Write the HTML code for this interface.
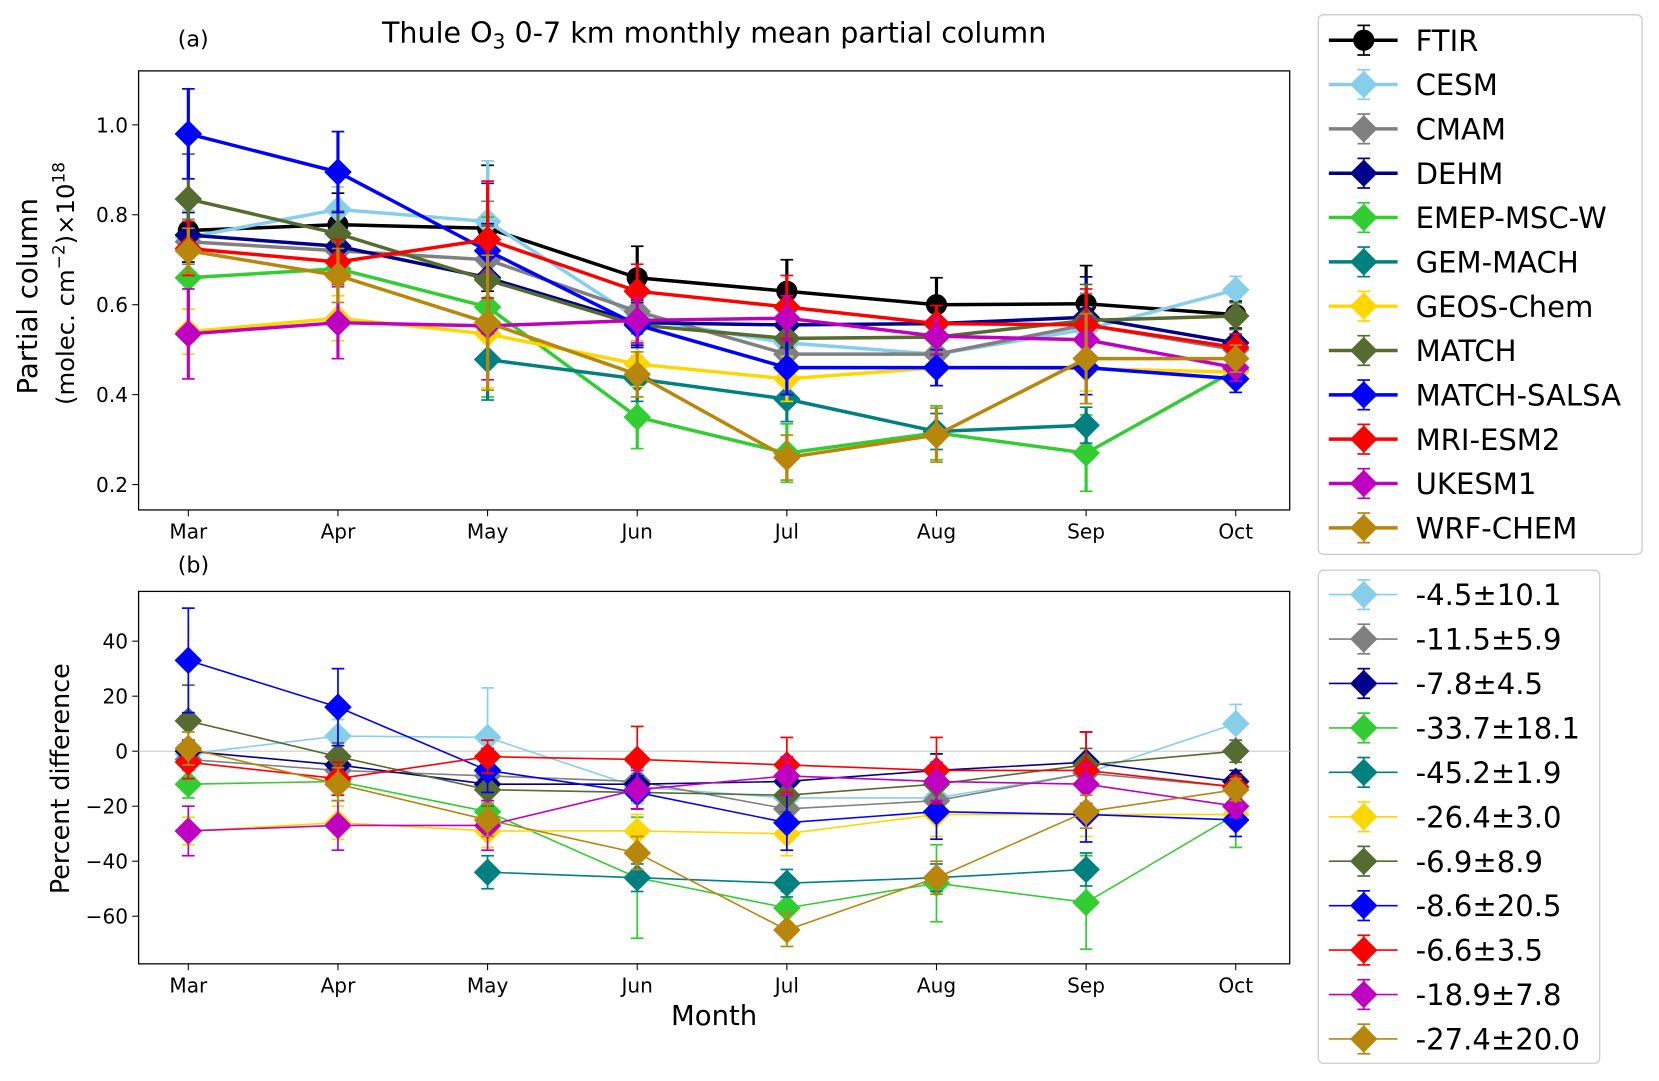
<!DOCTYPE html>
<html><head><meta charset="utf-8">
<style>
body{margin:0;background:#fff;}
svg{display:block;font-family:"DejaVu Sans","Liberation Sans",sans-serif;}
</style></head>
<body>
<svg id="chart" width="1659" height="1081" viewBox="0 0 1659 1081">
<g id="root" transform="scale(1.058)">
<text x="675" y="40" font-size="27" text-anchor="middle">Thule O<tspan font-size="19" dy="6">3</tspan><tspan dy="-6"> 0-7 km monthly mean partial column</tspan></text>
<text x="168" y="44" font-size="21">(a)</text>
<text x="168" y="541" font-size="21">(b)</text>
<g id="pa"></g><g id="pb"></g><g id="leg"></g>
</g>
</svg>
<script>
const months = ["Mar","Apr","May","Jun","Jul","Aug","Sep","Oct"];
const names = ["FTIR","CESM","CMAM","DEHM","EMEP-MSC-W","GEM-MACH","GEOS-Chem","MATCH","MATCH-SALSA","MRI-ESM2","UKESM1","WRF-CHEM"];
const colors = ["#000000","#87ceeb","#808080","#00008b","#32cd32","#008080","#ffd700","#556b2f","#0000ff","#ff0000","#c000c0","#b8860b"];
const N = null;
const colA = [
 [0.765,0.778,0.770,0.660,0.630,0.600,0.602,0.578],
 [0.750,0.812,0.785,0.570,0.515,0.490,0.545,0.633],
 [0.740,0.720,0.700,0.585,0.490,0.490,0.555,0.500],
 [0.755,0.730,0.660,0.560,0.555,0.558,0.572,0.515],
 [0.660,0.680,0.595,0.350,0.270,0.315,0.270,0.455],
 [N,N,0.478,0.435,0.390,0.318,0.332,N],
 [0.540,0.570,0.535,0.468,0.435,0.460,0.458,0.450],
 [0.835,0.758,0.655,0.555,0.525,0.528,0.565,0.575],
 [0.980,0.895,0.720,0.555,0.460,0.460,0.460,0.435],
 [0.725,0.695,0.745,0.630,0.595,0.558,0.555,0.505],
 [0.535,0.560,0.553,0.565,0.570,0.530,0.522,0.460],
 [0.720,0.665,0.560,0.445,0.260,0.310,0.480,0.480]
];
const errA = [
 [0.07,0.07,0.14,0.07,0.07,0.06,0.085,0.03],
 [0.06,0.05,0.135,0.05,0.05,0.04,0.05,0.03],
 [0.05,0.05,0.13,0.05,0.05,0.04,0.07,0.03],
 [0.05,0.05,0.12,0.05,0.05,0.04,0.09,0.03],
 [0.07,0.06,0.2,0.07,0.065,0.06,0.085,0.03],
 [N,N,0.09,0.05,0.05,0.04,0.04,N],
 [0.05,0.05,0.12,0.05,0.05,0.04,0.05,0.03],
 [0.1,0.05,0.12,0.05,0.05,0.04,0.08,0.03],
 [0.1,0.09,0.15,0.05,0.06,0.04,0.06,0.03],
 [0.06,0.05,0.13,0.06,0.07,0.04,0.08,0.03],
 [0.1,0.08,0.12,0.05,0.05,0.04,0.05,0.03],
 [0.05,0.06,0.15,0.05,0.05,0.06,0.1,0.03]
];
const diffB = [
 [-1,5.5,5,-13,-17,-17,-8,10],
 [-3,-7,-9,-11,-21,-18,-8,-13],
 [0,-5,-12,-12,-11,-7,-4,-11],
 [-12,-11,-22,-46,-57,-48,-55,-23],
 [N,N,-44,-46,-48,-46,-43,N],
 [-29,-26,-29,-29,-30,-23,-23,-23],
 [11,-2,-14,-15,-16,-12,-5,0],
 [33,16,-7,-15,-26,-22,-23,-25],
 [-4,-10,-2,-3,-5,-7,-7,-13],
 [-29,-27,-27,-14,-9,-11,-12,-20],
 [1,-12,-25,-37,-65,-46,-22,-14]
];
const errB = [
 [4,6,18,6,6,6,6,7],
 [4,4,6,6,6,6,6,4],
 [4,4,6,6,6,6,11,4],
 [5,5,7,22,6,14,17,12],
 [N,N,6,5,5,5,6,N],
 [5,6,6,6,8,8,8,4],
 [13,5,6,6,6,6,6,4],
 [19,14,8,6,10,10,10,6],
 [6,6,6,12,10,12,14,4],
 [9,9,9,7,7,7,7,4],
 [6,6,6,6,6,6,6,4],
 [4,4,6,6,6,17,11,4]
];
const legendB = ["-4.5±10.1","-11.5±5.9","-7.8±4.5","-33.7±18.1","-45.2±1.9","-26.4±3.0","-6.9±8.9","-8.6±20.5","-6.6±3.5","-18.9±7.8","-27.4±20.0"];
const ticksA = [0.2,0.4,0.6,0.8,1.0];
const ticksB = [-60,-40,-20,0,20,40];

const NS="http://www.w3.org/2000/svg";
function mk(tag,attrs,parent){const e=document.createElementNS(NS,tag);for(const k in attrs)e.setAttribute(k,attrs[k]);parent.appendChild(e);return e;}
const X0=131,X1=1219;
const xs=i=>178+i*(1168-178)/7;
const yA=v=>458-(v-0.2)*425;
const yB=v=>710-v*2.6;

function diamond(g,x,y,r,c){return mk('polygon',{points:`${x},${y-r} ${x+r},${y} ${x},${y+r} ${x-r},${y}`,fill:c},g);}

function drawPanel(g,top,bot,yf,ticks,fmt,data,errs,cols,lw,isA){
  const frame=mk('rect',{x:X0,y:top,width:X1-X0,height:bot-top,fill:'none',stroke:'#000','stroke-width':1.2},g);
  
  
  ticks.forEach(t=>{const y=yf(t);
    mk('line',{x1:X0-6,x2:X0,y1:y,y2:y,stroke:'#000'},g);
    const tx=mk('text',{x:X0-10,y:y+7,'font-size':19,'text-anchor':'end'},g);tx.textContent=fmt(t);
    
    
  });
  months.forEach((m,i)=>{const x=xs(i);
    mk('line',{x1:x,x2:x,y1:bot,y2:bot+6,stroke:'#000'},g);
    const tx=mk('text',{x:x,y:bot+27,'font-size':19,'text-anchor':'middle'},g);tx.textContent=m;
    
    
  });
  if(!isA){const z=mk('line',{x1:X0,x2:X1,y1:yf(0),y2:yf(0),stroke:'#ccc','stroke-width':1},g);
    
    }
  data.forEach((s,k)=>{
    const c=cols[k];
    const sg=mk('g',{},g);
    
    
    s.forEach((v,i)=>{ if(v===null)return; const e=errs[k][i]; const x=xs(i);
      mk('line',{x1:x,x2:x,y1:yf(v-e),y2:yf(v+e),stroke:c,'stroke-width':isA?3:1.6},sg);
      [v-e,v+e].forEach(w=>mk('line',{x1:x-6,x2:x+6,y1:yf(w),y2:yf(w),stroke:c,'stroke-width':1.6},sg));
    });
    let d='';s.forEach((v,i)=>{if(v===null)return;d+=(d?'L':'M')+xs(i)+','+yf(v);});
    mk('path',{d:d,fill:'none',stroke:c,'stroke-width':lw},sg);
    s.forEach((v,i)=>{if(v===null)return;
      const p=(isA&&k===0)?mk('circle',{cx:xs(i),cy:yf(v),r:10,fill:c},sg):diamond(sg,xs(i),yf(v),13,c);
      
      
    });
  });
}
const pa=document.getElementById('pa'),pb=document.getElementById('pb');
drawPanel(pa,67,482,yA,ticksA,t=>t.toFixed(1),colA,errA,colors,3.3,true);
drawPanel(pb,559,911,yB,ticksB,t=>String(t).replace('-','−'),diffB,errB,colors.slice(1),1.5,false);

let t=mk('text',{x:0,y:0,'font-size':26,'text-anchor':'middle',transform:'translate(35,280) rotate(-90)'},pa);
t.textContent='Partial column';


t=mk('text',{x:0,y:0,'font-size':23,'text-anchor':'middle',transform:'translate(70,268) rotate(-90)'},pa);
t.innerHTML='(molec. cm<tspan font-size="16" dy="-9">−2</tspan><tspan dy="9">)×10</tspan><tspan font-size="16" dy="-9">18</tspan>';


t=mk('text',{x:0,y:0,'font-size':24,'text-anchor':'middle',transform:'translate(65,736) rotate(-90)'},pb);
t.textContent='Percent difference';


t=mk('text',{x:675,y:969,'font-size':26,'text-anchor':'middle'},pb);
t.textContent='Month';



const leg=document.getElementById('leg');
function legend(x,y,w,h,labels,cols,startY,step,nameP,circleFirst){
  const box=mk('rect',{x:x,y:y,width:w,height:h,rx:5,fill:'#fff',stroke:'#ccc','stroke-width':1.2},leg);
  
  
  labels.forEach((l,i)=>{const yy=startY+i*step;const c=cols[i];
    const g=mk('g',{},leg);
    
    
    mk('line',{x1:x+10,x2:x+75,y1:yy,y2:yy,stroke:c,'stroke-width':nameP==='legend-a'?3.3:1.5},g);
    mk('line',{x1:x+43,x2:x+43,y1:yy-14,y2:yy+14,stroke:c,'stroke-width':1.6},g);
    mk('line',{x1:x+37,x2:x+49,y1:yy-14,y2:yy-14,stroke:c,'stroke-width':1.6},g);
    mk('line',{x1:x+37,x2:x+49,y1:yy+14,y2:yy+14,stroke:c,'stroke-width':1.6},g);
    if(circleFirst&&i===0)mk('circle',{cx:x+43,cy:yy,r:10,fill:c},g);else diamond(g,x+43,yy,13,c);
    const tx=mk('text',{x:x+92,y:yy+10,'font-size':27.5},g);tx.textContent=l;
  });
}
legend(1246,14,306,510,names,colors,38,41.9,'legend-a',true);
legend(1246,539,266,466,legendB,colors.slice(1),562,42,'legend-b',false);
</script>
</body></html>
